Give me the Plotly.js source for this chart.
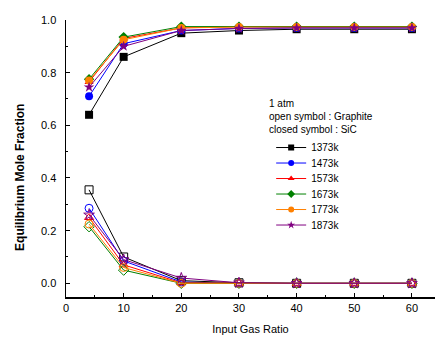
<!DOCTYPE html>
<html><head><meta charset="utf-8">
<script src="https://cdn.plot.ly/plotly-3.0.1.min.js"></script>
<style>html,body{margin:0;padding:0;background:#fff}#c{width:435px;height:338px}</style>
</head><body><div id="c"></div>
<script>
const ratio = [4, 10, 20, 30, 40, 50, 60];
const temps = ["1373k", "1473k", "1573k", "1673k", "1773k", "1873k"];
const sic_1373 = [0.64, 0.86, 0.950, 0.960, 0.965, 0.965, 0.965];
const sic_1473 = [0.71, 0.91, 0.960, 0.968, 0.970, 0.970, 0.970];
const sic_1573 = [0.765, 0.930, 0.970, 0.975, 0.975, 0.975, 0.975];
const sic_1673 = [0.775, 0.935, 0.975, 0.975, 0.975, 0.975, 0.975];
const sic_1773 = [0.77, 0.925, 0.970, 0.973, 0.973, 0.973, 0.973];
const sic_1873 = [0.745, 0.900, 0.960, 0.968, 0.970, 0.970, 0.970];
const gr_1373 = [0.355, 0.100, 0.010, 0.002, 0.0, 0.0, 0.0];
const gr_1473 = [0.285, 0.085, 0.005, 0.0, 0.0, 0.0, 0.0];
const gr_1573 = [0.250, 0.070, 0.002, 0.0, 0.0, 0.0, 0.0];
const gr_1673 = [0.215, 0.050, 0.0, 0.0, 0.0, 0.0, 0.0];
const gr_1773 = [0.225, 0.060, 0.0, 0.0, 0.0, 0.0, 0.0];
const gr_1873 = [0.260, 0.090, 0.020, 0.002, 0.0, 0.0, 0.0];
const sicSeries = [sic_1373, sic_1473, sic_1573, sic_1673, sic_1773, sic_1873];
const grSeries = [gr_1373, gr_1473, gr_1573, gr_1673, gr_1773, gr_1873];

const colors = ["#000000", "#0000ff", "#ff0000", "#008000", "#ff8000", "#800080"];
const symbols = ["square", "circle", "triangle-up", "diamond", "circle", "star"];

const traces = [];
temps.forEach((t, i) => {
  traces.push({
    x: ratio, y: sicSeries[i], name: t, mode: "lines+markers",
    line: {color: colors[i], width: 1},
    marker: {symbol: symbols[i], size: 8, color: colors[i], line: {width: 0}},
    cliponaxis: false
  });
});
temps.forEach((t, i) => {
  traces.push({
    x: ratio, y: grSeries[i], name: t, mode: "lines+markers", showlegend: false,
    line: {color: colors[i], width: 1},
    marker: {symbol: symbols[i] + "-open", size: 8, color: colors[i], line: {width: 1}},
    cliponaxis: false
  });
});

const font = "Liberation Sans, Arial, sans-serif";
const layout = {
  width: 435, height: 338,
  margin: {l: 66, r: 0, t: 20, b: 41},
  paper_bgcolor: "#fff", plot_bgcolor: "#fff",
  font: {family: font, size: 11, color: "#000"},
  showlegend: true,
  legend: {x: 0.556, y: 0.592, xanchor: "left", yanchor: "top", bgcolor: "rgba(0,0,0,0)",
           font: {size: 10, family: font}, itemwidth: 30, tracegroupgap: 0},
  xaxis: {
    range: [0, 64], tickvals: [0, 10, 20, 30, 40, 50, 60], showgrid: false, zeroline: false,
    showline: true, linecolor: "#000", linewidth: 1.5, ticks: "inside", ticklen: 4, tickcolor: "#000",
    tickfont: {size: 11},
    minor: {dtick: 5, ticks: "inside", ticklen: 2, tickcolor: "#000"},
    title: {text: "Input Gas Ratio", font: {size: 11}, standoff: 12}
  },
  yaxis: {
    range: [-0.052, 1.0], tickvals: [0, 0.2, 0.4, 0.6, 0.8, 1.0], tickformat: ".1f",
    showgrid: false, zeroline: false, ticklabelstandoff: 6,
    showline: true, linecolor: "#000", linewidth: 1.5, ticks: "inside", ticklen: 4, tickcolor: "#000",
    tickfont: {size: 11},
    minor: {dtick: 0.1, ticks: "inside", ticklen: 2, tickcolor: "#000"}
  },
  annotations: [
    {xref: "paper", yref: "paper", x: 0.545, y: 0.65, xanchor: "left", yanchor: "middle", showarrow: false,
     align: "left", text: "1 atm<br>open symbol : Graphite<br>closed symbol : SiC", font: {size: 10}},
    {xref: "paper", yref: "paper", x: -0.125, y: 0.433, xanchor: "center", yanchor: "middle", showarrow: false,
     textangle: -90, text: "<b>Equilibrium Mole Fraction</b>", font: {size: 12}}
  ]
};
Plotly.newPlot("c", traces, layout, {staticPlot: true}).then(() => {
  const items = document.querySelectorAll("#c .legend .traces");
  if (!items.length) return;
  const m = /translate\(\s*([-\d.]+)[ ,]+([-\d.]+)\s*\)/.exec(items[0].getAttribute("transform") || "");
  if (!m) return;
  const x0 = parseFloat(m[1]), y0 = parseFloat(m[2]);
  items.forEach((g, i) => {
    g.setAttribute("transform", "translate(" + x0 + "," + (y0 + i * 15.5) + ")");
  });
  document.querySelectorAll("#c .legend .legendpoints path.scatterpts").forEach(p => {
    const t = p.getAttribute("transform") || "";
    p.setAttribute("transform", t + " scale(0.75)");
  });
});
</script></body></html>
